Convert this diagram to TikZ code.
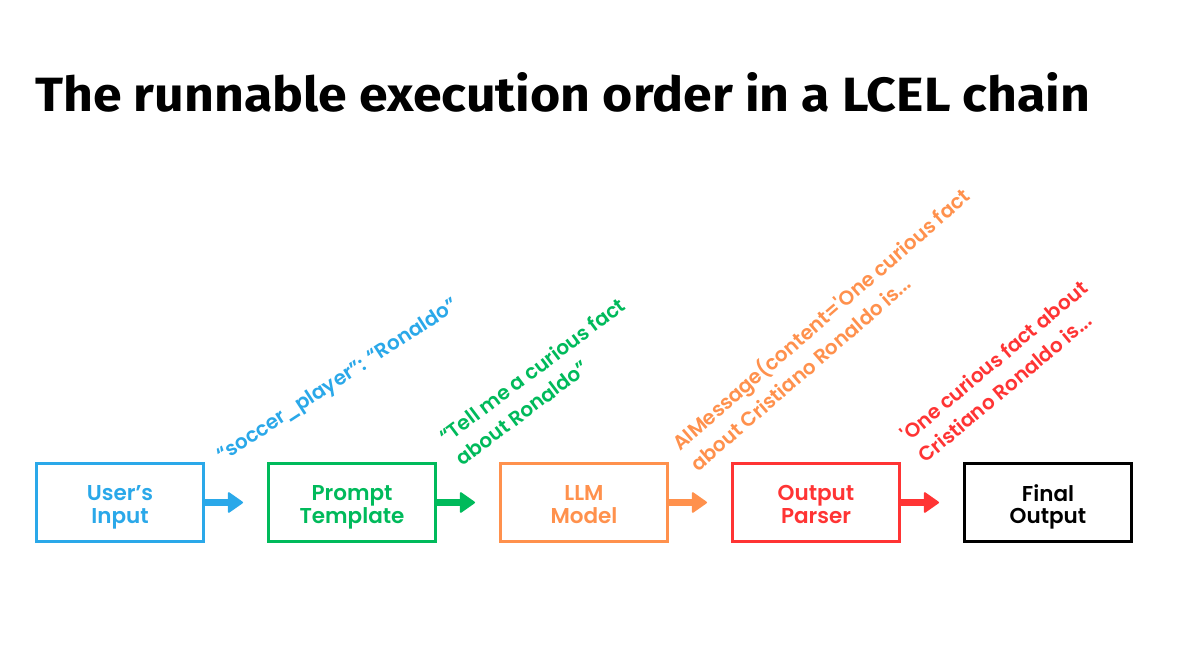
\documentclass[tikz,border=0pt]{standalone}
\usepackage{fontspec}
\usetikzlibrary{arrows.meta}
\newfontfamily\titlefont{Fira Sans}
\IfFontExistsTF{Poppins SemiBold}
  {\newfontfamily\labfont{Poppins}[Ligatures=TeXOff,BoldFont={Poppins SemiBold}]}
  {\newfontfamily\labfont{Poppins}[Ligatures=TeXOff]}
\definecolor{cblue}{HTML}{2AA8E9}
\definecolor{cgreen}{HTML}{00BA5B}
\definecolor{corange}{HTML}{FF914D}
\definecolor{cred}{HTML}{FF3434}
\definecolor{cblack}{HTML}{000000}
\newcommand{\twolines}[2]{\raisebox{-10pt}[0pt][0pt]{\begin{tabular}{@{}c@{}}#1\\#2\end{tabular}}}
\begin{document}
\begin{tikzpicture}[x=1pt,y=-1pt,
  stagebox/.style={draw=#1, line width=3pt, minimum width=167pt, minimum height=78pt,
    inner sep=0pt, text=#1,
    font=\labfont\bfseries\fontsize{21.5}{22.5}\selectfont},
  flow/.style={draw=#1, line width=6.5pt,
    -{Triangle[round,length=16pt,width=22pt,line width=2pt]}, shorten >=24pt},
  datalabel/.style={text=#1, anchor=base west, inner sep=0pt,
    font=\labfont\bfseries\fontsize{20}{27.5}\selectfont}
]
\useasboundingbox (0,0) rectangle (1200,650);
\fill[white] (0,0) rectangle (1200,650);

\node[anchor=base west, inner sep=0pt] (title) at (35,112)
  {\resizebox{1055pt}{39pt}{\titlefont\bfseries The runnable execution order in a LCEL chain}};

\node[stagebox=cblue]   (inp)    at (120,502.5) {\twolines{User’s}{Input}};
\node[stagebox=cgreen]  (prompt) at (352,502.5) {\twolines{Prompt}{Template}};
\node[stagebox=corange] (llm)    at (584,502.5) {\twolines{LLM}{Model}};
\node[stagebox=cred]    (parser) at (816,502.5) {\twolines{Output}{Parser}};
\node[stagebox=cblack]  (final)  at (1048,502.5) {\twolines{Final}{Output}};

\draw[flow=cblue]   (inp)    -- (prompt);
\draw[flow=cgreen]  (prompt) -- (llm);
\draw[flow=corange] (llm)    -- (parser);
\draw[flow=cred]    (parser) -- (final);

\node[datalabel=cblue, rotate=33] (l1) at (222,463) {“soccer\_player”: “Ronaldo”};
\node[datalabel=cgreen, rotate=37] (l2) at (446,445)
  {\begin{tabular}[t]{@{}l@{}}“Tell me a curious fact\\about Ronaldo”\end{tabular}};
\node[datalabel=corange, rotate=41] (l3) at (680,452)
  {\begin{tabular}[t]{@{}l@{}}AIMessage(content='One curious fact\\about Cristiano Ronaldo is...\end{tabular}};
\node[datalabel=cred, rotate=40] (l4) at (908,443)
  {\begin{tabular}[t]{@{}l@{}}'One curious fact about\\Cristiano Ronaldo is...\end{tabular}};
\end{tikzpicture}
\end{document}
